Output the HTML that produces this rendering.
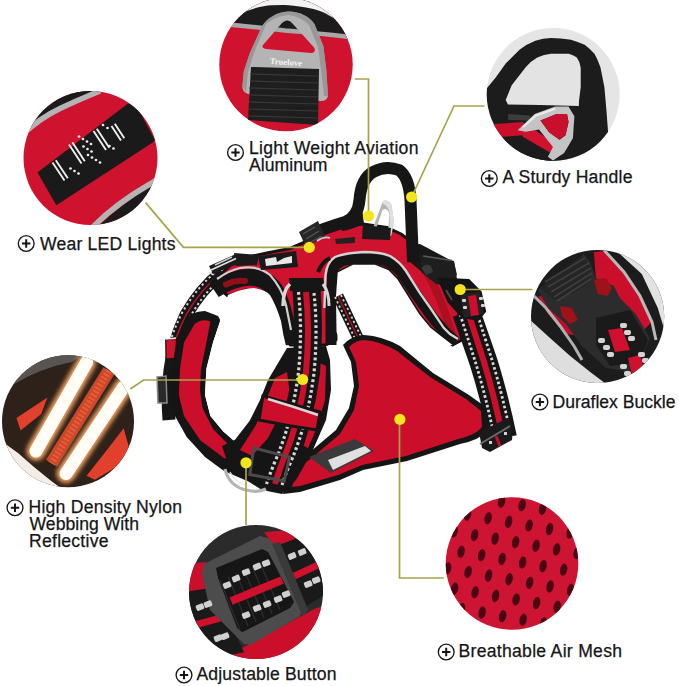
<!DOCTYPE html>
<html><head><meta charset="utf-8">
<style>
html,body{margin:0;padding:0;background:#fff;}
body{width:679px;height:686px;overflow:hidden;position:relative;}
svg{position:absolute;left:0;top:0;}
.t{font-family:"Liberation Sans",sans-serif;font-size:17.6px;fill:#151515;stroke:#151515;stroke-width:0.25px;}
</style></head><body>
<svg width="679" height="686" viewBox="0 0 679 686">
<defs>
<clipPath id="c1"><circle cx="286" cy="64.6" r="66.7"/></clipPath>
<clipPath id="c2"><circle cx="553.2" cy="94.4" r="66.5"/></clipPath>
<clipPath id="c3"><circle cx="90.5" cy="158" r="67"/></clipPath>
<clipPath id="c4"><circle cx="597.6" cy="316.5" r="66.6"/></clipPath>
<clipPath id="c5"><circle cx="68" cy="421.3" r="66"/></clipPath>
<clipPath id="c6"><circle cx="256" cy="592" r="67"/></clipPath>
<clipPath id="c7"><circle cx="512" cy="563.5" r="66.3"/></clipPath>
<linearGradient id="silver" x1="0" y1="0" x2="1" y2="1">
<stop offset="0" stop-color="#d8d8d8"/><stop offset="0.5" stop-color="#a8a8a8"/><stop offset="1" stop-color="#8a8a8a"/>
</linearGradient>
</defs>
<rect width="679" height="686" fill="#fff"/>

<!-- c1 aluminum -->
<g clip-path="url(#c1)">
<rect x="210" y="-5" width="160" height="145" fill="#cf122d"/>
<path d="M210 -5 H370 V45 L340 35 Q300 30 285 30 Q255 27 238 23 L210 28 Z" fill="#1c1c1c"/>
<path d="M210 -5 H370 V30 L340 22 Q334 18 330 16 Q322 10 306 7.5 Q290 4.5 282 5 Q270 5 265 6 Q252 8 240 14 L210 20 Z" fill="#f2f2f2"/>
<path d="M215 23 Q255 27 285 30.5 Q315 33 350 37" fill="none" stroke="#a8a8a8" stroke-width="4.5"/>
<path d="M288 11.6 Q297 11.5 304.2 15.3 Q310 18 314.5 24 L323.4 46.2 L326.3 69.8 L328 96 Q327 101 321 101 L248 94 Q242 92 242.4 86 L243.8 71.3 L249.7 53.6 L261.5 27 Q266 20 271.8 16.8 Q279 12 288 11.6 Z M286.5 20.5 Q290 20 292 23 L314.5 48 Q316 53 311 53 L266 49 Q261 48 263 45 L282 23 Q284 21 286.5 20.5 Z" fill="#b4b4b4" fill-rule="evenodd"/>
<path d="M288 11.6 Q297 11.5 304.2 15.3 Q310 18 314.5 24 L323.4 46.2 L326.3 69.8 L328 96 L324 96 L321 70 L318 47 L309 25 Q300 16 288 15 Q276 16 266 24 L254 53 L248 72 L246 92 L242.4 86 L243.8 71.3 L249.7 53.6 L261.5 27 Q266 20 271.8 16.8 Q279 12 288 11.6 Z" fill="#8c8c8c" opacity="0.7"/>
<path d="M251 66.9 L319 69 L318 125 L248 120 Z" fill="#1e1e1e"/>
<g stroke="#383838" stroke-width="1.2">
<path d="M250 74 L318 76 M250 81 L318 83 M249 88 L318 90 M249 95 L318 97 M249 102 L318 104 M248 109 L318 111 M248 116 L318 118"/>
</g>
<text x="270" y="65" font-family="Liberation Serif" font-size="8.5" font-weight="bold" fill="#f4f4f4" transform="rotate(4 287 62)">Truelove</text>
</g>

<!-- c2 handle -->
<g clip-path="url(#c2)">
<rect x="480" y="20" width="150" height="150" fill="#e5e5e5"/>
<path d="M480 95 L486 89.2 L495.9 77.3 L505.7 63.5 L519.5 49.7 Q527 44 535.3 40.8 Q543 38 551 37.9 Q561 38 570.9 39.8 Q578 42 584.7 44.8 Q590 49 594.5 53.7 Q598 60 600.5 67.5 L604.4 87.2 L606.4 110 L608 131 L609 175 L480 175 Z" fill="#1c1c1c"/>
<path d="M505.7 100 L511.7 85.2 L525.5 67.5 Q531 61 537.3 57.6 Q544 54 551 53.7 L568.9 53.7 Q574 55 576.8 57.6 Q580 62 580.7 67.5 L580.7 87.2 L579 101 L578.8 106 L540 105 L508 104.5 Z" fill="#e3e3e3"/>
<polygon points="508.1,114.0 530.2,115.5 530.2,120.6 508.1,119.9" fill="#3c3c3c"/>
<polygon points="478.6,125.0 522.8,122.1 530.2,129.5 524.3,141.2 478.6,144.2" fill="#cb0f2b"/>
<polygon points="478.6,138.3 503.7,136.8 522.8,135.3 552.3,153.0 550.8,164.8 478.6,164.8" fill="#1c1c1c"/>
<polygon points="521.3,128.0 530.2,126.5 555.2,144.2 550.8,153.0 522.8,136.8" fill="#cf122d"/>
<path d="M517.7 130.2 534.6 114.0 555.2 106.6 568.5 106.6 574.4 116.2 572.9 138.3 564.1 153.0 553.0 160.4 547.9 156.7 553.0 147.1 539.0 129.5 525.8 131.7 Z M540.5 120.6 556.7 114.0 567.0 114.0 568.5 122.1 565.5 135.3 559.6 139.8 549.3 132.4 Z" fill="#c4c4c4" fill-rule="evenodd"/>
<polygon points="540.5,120.6 556.7,114.0 567.0,114.0 568.5,122.1 565.5,135.3 559.6,139.8 549.3,132.4" fill="#c80f2b"/>
<path d="M522.8 127.2 L536.1 115.5 L555.2 108.8" fill="none" stroke="#ececec" stroke-width="2"/>
</g>

<!-- c3 LED -->
<g clip-path="url(#c3)">
<rect x="20" y="88" width="145" height="145" fill="#cf122d"/>
<path d="M20 88 H120 L95 92 Q70 103 55 110 Q40 118 30 128 L20 140 Z" fill="#1b1b1b"/>
<path d="M22 135 Q40 118 60 108.5 Q78 100 100 91" fill="none" stroke="#b4b4b4" stroke-width="5.5"/>
<path d="M85 240 Q110 212 150 186 L170 174 V240 Z" fill="#1b1b1b"/>
<path d="M88 232 Q112 206 150 184 L172 170" fill="none" stroke="#b4b4b4" stroke-width="5.5"/>
<path d="M37.5 172.6 L127.7 103.8 L135 103 L155 140 L152.7 142.6 L56.3 205.2 Z" fill="#1a1a1a"/>
<g stroke="#eeeeee" stroke-width="1.9" fill="none">
<path d="M52.5 162.5 L64.5 180.5 M55.8 160.3 L67.8 178.3 M69 144.5 L81.5 163.5 M72.3 142.3 L84.8 161.3 M93.5 131 L106 150 M96.8 128.8 L109.3 147.8 M111.5 126 L121 140.5 M114.8 123.8 L124.3 138.3"/>
</g>
<g fill="#eeeeee">
<circle cx="70.5" cy="168.5" r="1.35"/><circle cx="74.5" cy="171" r="1.35"/><circle cx="78.5" cy="173.5" r="1.35"/><circle cx="79" cy="136.5" r="1.35"/><circle cx="83" cy="139" r="1.35"/><circle cx="87" cy="141.5" r="1.35"/><circle cx="91" cy="144" r="1.35"/><circle cx="83.5" cy="146.5" r="1.35"/><circle cx="87.5" cy="149" r="1.35"/><circle cx="91.5" cy="151.5" r="1.35"/><circle cx="88" cy="155" r="1.35"/><circle cx="92" cy="157.5" r="1.35"/><circle cx="96" cy="160" r="1.35"/><circle cx="100" cy="162.5" r="1.35"/><circle cx="103" cy="125" r="1.35"/><circle cx="107.5" cy="128" r="1.35"/><circle cx="109.5" cy="146" r="1.35"/><circle cx="113.5" cy="148.5" r="1.35"/>
</g>
</g>

<!-- c4 buckle -->
<g clip-path="url(#c4)">
<rect x="525" y="245" width="150" height="150" fill="#1c1c1c"/>
<polygon points="617.9,244.0 669.8,244.0 669.8,331.9 663.8,327.9 657.8,307.9 641.8,274.0 619.9,254.0" fill="#e2e2e2"/>
<polygon points="526.0,315.9 530.0,319.9 550.0,337.9 569.9,355.8 589.9,371.8 605.9,383.8 526.0,387.8" fill="#dedede"/>
<polygon points="593.9,252.0 605.9,251.0 623.9,272.0 641.8,299.9 651.8,321.9 641.8,331.9 615.9,297.9 595.9,278.0" fill="#cb0f2b"/>
<polygon points="538.0,295.9 560.0,297.9 577.9,313.9 579.9,335.9 565.9,333.9 548.0,313.9" fill="#c00f2a"/>
<path d="M604 250 L624 272 L640 296 L652 322 L656 340" fill="none" stroke="#b8b8b8" stroke-width="3"/>
<path d="M532 294 L546 308 L560 326 L574 346 L582 360" fill="none" stroke="#b0b0b0" stroke-width="3"/>
<polygon points="538.0,289.9 583.9,254.0 589.9,262.0 595.9,278.0 613.9,285.9 619.9,297.9 635.9,313.9 649.8,337.9 641.8,359.8 627.9,371.8 605.9,367.8 581.9,345.9 565.9,323.9 548.0,307.9" fill="#2c2c2c"/>
<polygon points="540.0,287.9 581.9,256.0 589.9,266.0 589.9,282.0 575.9,291.9 554.0,299.9" fill="#252525"/>
<g stroke="#3e3e3e" stroke-width="1.6"><path d="M545 282 L585 258 M548 287 L589 263 M551 292 L591 268 M554 297 L592 273 M557 301 L591 279"/></g>
<polygon points="593.9,280.0 605.9,278.0 611.9,287.9 607.9,295.9 597.9,293.9" fill="#a0121a"/>
<polygon points="560.0,305.9 571.9,307.9 577.9,319.9 569.9,323.9 562.0,315.9" fill="#a0121a"/>
<path d="M596 318 L630 310 L648 340 L640 362 L610 366 L596 345 Z" fill="#1a1a1a"/>
<path d="M608 330 L622 328 L630 350 L615 352 Z" fill="#d0102c"/>
<path d="M628 358 L640 355 L645 372 L632 375 Z" fill="#d0102c"/>
<g fill="#d4d4d4">
<rect x="598" y="338" width="7" height="5" rx="2"/><rect x="603" y="345" width="7" height="5" rx="2"/><rect x="607" y="352" width="7" height="5" rx="2"/>
<rect x="620" y="323" width="7" height="5" rx="2"/><rect x="624" y="330" width="7" height="5" rx="2"/><rect x="628" y="336" width="7" height="5" rx="2"/>
<rect x="620" y="364" width="7" height="5" rx="2"/><rect x="624" y="371" width="7" height="5" rx="2"/>
<rect x="638" y="352" width="7" height="5" rx="2"/><rect x="642" y="358" width="7" height="5" rx="2"/>
</g>
</g>

<!-- c5 reflective -->
<g clip-path="url(#c5)">
<defs>
<filter id="glow" x="-50%" y="-50%" width="200%" height="200%"><feGaussianBlur stdDeviation="2.2"/></filter>
</defs>
<rect x="0" y="350" width="145" height="145" fill="#2e2119"/>
<path d="M0 350 H90 L72 362 Q40 368 12.4 385 L0 395 Z" fill="#585452"/>
<path d="M0 440 L18 453 L34 467 L50 480 L66 492 H0 Z" fill="#f4ece6"/>
<path d="M8 462 L44 490" stroke="#d8402c" stroke-width="1.5"/>
<path d="M16.5 418 L47.4 397.4 L41.2 413.9 L20.6 430.4 Z" fill="#e0402c"/>
<path d="M123.7 428.3 L130 451 L115.5 467.5 L94.8 479.8 L86.6 475.7 L103 455 Z" fill="#e0402c"/>
<g filter="url(#glow)">
<path d="M86.6 362.3 L36 451" stroke="#f0a060" stroke-width="19" stroke-linecap="round"/>
<path d="M123.7 387 L66 473.6" stroke="#f0a060" stroke-width="19" stroke-linecap="round"/>
</g>
<path d="M109 370.6 L51.5 463.3" stroke="#c84a2a" stroke-width="13"/>
<path d="M109 370.6 L51.5 463.3" stroke="#ee5a36" stroke-width="7" stroke-dasharray="2 2"/>
<path d="M86.6 362.3 L36 451" stroke="#fffdf6" stroke-width="13" stroke-linecap="round"/>
<path d="M123.7 387 L66 473.6" stroke="#fffdf6" stroke-width="13" stroke-linecap="round"/>
</g>

<!-- c6 adjustable -->
<g clip-path="url(#c6)">
<rect x="185" y="520" width="145" height="145" fill="#2b2b2b"/>
<polygon points="264.1,532.0 292.1,530.0 296.2,546.0 274.1,546.0" fill="#cb0f2b"/>
<polygon points="184.0,564.1 206.0,562.1 208.0,592.1 184.0,594.1" fill="#cb0f2b"/>
<polygon points="228.1,664.2 234.1,652.2 316.2,608.1 332.2,604.1 332.2,668.2" fill="#cb0f2b"/>
<polygon points="276.1,546.0 324.2,528.0 332.2,590.1 300.2,610.1" fill="#1a1a1a"/>
<polygon points="184.0,592.1 210.0,588.1 236.1,636.2 244.1,652.2 184.0,664.2" fill="#1a1a1a"/>
<path d="M294.1 576.1 L324.2 562.1" stroke="#d0102c" stroke-width="7"/>
<path d="M184.0 628.1 L220.0 618.1" stroke="#d0102c" stroke-width="7"/>
<polygon points="204.0,564.1 260.1,536.0 268.1,538.0 276.1,546.0 302.2,608.1 300.2,616.1 252.1,644.2 244.1,644.2 236.1,636.2 210.0,610.1 202.0,574.1" fill="#4c4c4c"/>
<polygon points="272.1,544.0 280.1,542.0 308.2,610.1 302.2,616.1" fill="#3a3a3a"/>
<polygon points="216.0,568.1 262.1,549.0 268.1,552.0 294.1,602.1 290.1,608.1 242.1,632.2 237.1,628.1 218.0,578.1" fill="#161616"/>
<g stroke="#2e2e2e" stroke-width="1.2"><path d="M220.0 580.1 L240.1 630.1 M228.1 576.5 L248.1 626.1 M236.1 573.1 L256.1 622.1 M244.1 569.7 L264.1 618.1 M252.1 566.5 L272.1 614.1 M260.1 563.1 L280.1 610.1"/></g>
<path d="M231.1 601.1 L282.1 580.1" stroke="#d0102c" stroke-width="8"/>
<g fill="#d0d0d0"><rect x="223.1" y="582.1" width="8.0" height="6.0" rx="1.5" transform="rotate(-22 227.1 585.1)"/><rect x="232.1" y="575.5" width="8.0" height="6.0" rx="1.5" transform="rotate(-22 236.1 578.5)"/><rect x="242.1" y="569.1" width="8.0" height="6.0" rx="1.5" transform="rotate(-22 246.1 572.1)"/><rect x="253.1" y="563.5" width="8.0" height="6.0" rx="1.5" transform="rotate(-22 257.1 566.5)"/><rect x="262.1" y="560.1" width="8.0" height="6.0" rx="1.5" transform="rotate(-22 266.1 563.1)"/><rect x="242.1" y="612.1" width="8.0" height="6.0" rx="1.5" transform="rotate(-22 246.1 615.1)"/><rect x="253.1" y="605.1" width="8.0" height="6.0" rx="1.5" transform="rotate(-22 257.1 608.1)"/><rect x="263.1" y="601.1" width="8.0" height="6.0" rx="1.5" transform="rotate(-22 267.1 604.1)"/><rect x="274.1" y="596.1" width="8.0" height="6.0" rx="1.5" transform="rotate(-22 278.1 599.1)"/><rect x="282.1" y="591.1" width="8.0" height="6.0" rx="1.5" transform="rotate(-22 286.1 594.1)"/><rect x="288.1" y="553.0" width="8.0" height="6.0" rx="1.5" transform="rotate(-22 292.1 556.0)"/><rect x="298.2" y="549.0" width="8.0" height="6.0" rx="1.5" transform="rotate(-22 302.2 552.0)"/><rect x="304.2" y="581.1" width="8.0" height="6.0" rx="1.5" transform="rotate(-22 308.2 584.1)"/><rect x="312.2" y="577.1" width="8.0" height="6.0" rx="1.5" transform="rotate(-22 316.2 580.1)"/><rect x="196.0" y="604.1" width="8.0" height="6.0" rx="1.5" transform="rotate(-22 200.0 607.1)"/><rect x="204.0" y="601.1" width="8.0" height="6.0" rx="1.5" transform="rotate(-22 208.0 604.1)"/><rect x="214.0" y="635.2" width="8.0" height="6.0" rx="1.5" transform="rotate(-22 218.0 638.2)"/><rect x="221.1" y="633.2" width="8.0" height="6.0" rx="1.5" transform="rotate(-22 225.1 636.2)"/></g>
</g>

<!-- c7 mesh -->
<g clip-path="url(#c7)">
<rect x="440" y="490" width="150" height="150" fill="#cd1433"/>
<g fill="#4a0612"><ellipse cx="481.1" cy="498.0" rx="3.6" ry="6.2" transform="rotate(12 481.1 498.0)"/><ellipse cx="467.6" cy="514.7" rx="3.6" ry="6.2" transform="rotate(12 467.6 514.7)"/><ellipse cx="454.1" cy="531.4" rx="3.6" ry="6.2" transform="rotate(12 454.1 531.4)"/><ellipse cx="440.6" cy="548.1" rx="3.6" ry="6.2" transform="rotate(12 440.6 548.1)"/><ellipse cx="501.6" cy="501.6" rx="3.6" ry="6.2" transform="rotate(12 501.6 501.6)"/><ellipse cx="488.1" cy="518.3" rx="3.6" ry="6.2" transform="rotate(12 488.1 518.3)"/><ellipse cx="474.6" cy="535.0" rx="3.6" ry="6.2" transform="rotate(12 474.6 535.0)"/><ellipse cx="461.1" cy="551.7" rx="3.6" ry="6.2" transform="rotate(12 461.1 551.7)"/><ellipse cx="447.6" cy="568.4" rx="3.6" ry="6.2" transform="rotate(12 447.6 568.4)"/><ellipse cx="522.1" cy="505.2" rx="3.6" ry="6.2" transform="rotate(12 522.1 505.2)"/><ellipse cx="508.6" cy="521.9" rx="3.6" ry="6.2" transform="rotate(12 508.6 521.9)"/><ellipse cx="495.1" cy="538.6" rx="3.6" ry="6.2" transform="rotate(12 495.1 538.6)"/><ellipse cx="481.6" cy="555.3" rx="3.6" ry="6.2" transform="rotate(12 481.6 555.3)"/><ellipse cx="468.1" cy="572.0" rx="3.6" ry="6.2" transform="rotate(12 468.1 572.0)"/><ellipse cx="454.6" cy="588.7" rx="3.6" ry="6.2" transform="rotate(12 454.6 588.7)"/><ellipse cx="542.6" cy="508.8" rx="3.6" ry="6.2" transform="rotate(12 542.6 508.8)"/><ellipse cx="529.1" cy="525.5" rx="3.6" ry="6.2" transform="rotate(12 529.1 525.5)"/><ellipse cx="515.6" cy="542.2" rx="3.6" ry="6.2" transform="rotate(12 515.6 542.2)"/><ellipse cx="502.1" cy="558.9" rx="3.6" ry="6.2" transform="rotate(12 502.1 558.9)"/><ellipse cx="488.6" cy="575.6" rx="3.6" ry="6.2" transform="rotate(12 488.6 575.6)"/><ellipse cx="475.1" cy="592.3" rx="3.6" ry="6.2" transform="rotate(12 475.1 592.3)"/><ellipse cx="461.6" cy="609.0" rx="3.6" ry="6.2" transform="rotate(12 461.6 609.0)"/><ellipse cx="563.1" cy="512.4" rx="3.6" ry="6.2" transform="rotate(12 563.1 512.4)"/><ellipse cx="549.6" cy="529.1" rx="3.6" ry="6.2" transform="rotate(12 549.6 529.1)"/><ellipse cx="536.1" cy="545.8" rx="3.6" ry="6.2" transform="rotate(12 536.1 545.8)"/><ellipse cx="522.6" cy="562.5" rx="3.6" ry="6.2" transform="rotate(12 522.6 562.5)"/><ellipse cx="509.1" cy="579.2" rx="3.6" ry="6.2" transform="rotate(12 509.1 579.2)"/><ellipse cx="495.6" cy="595.9" rx="3.6" ry="6.2" transform="rotate(12 495.6 595.9)"/><ellipse cx="482.1" cy="612.6" rx="3.6" ry="6.2" transform="rotate(12 482.1 612.6)"/><ellipse cx="570.1" cy="532.7" rx="3.6" ry="6.2" transform="rotate(12 570.1 532.7)"/><ellipse cx="556.6" cy="549.4" rx="3.6" ry="6.2" transform="rotate(12 556.6 549.4)"/><ellipse cx="543.1" cy="566.1" rx="3.6" ry="6.2" transform="rotate(12 543.1 566.1)"/><ellipse cx="529.6" cy="582.8" rx="3.6" ry="6.2" transform="rotate(12 529.6 582.8)"/><ellipse cx="516.1" cy="599.5" rx="3.6" ry="6.2" transform="rotate(12 516.1 599.5)"/><ellipse cx="502.6" cy="616.2" rx="3.6" ry="6.2" transform="rotate(12 502.6 616.2)"/><ellipse cx="489.1" cy="632.9" rx="3.6" ry="6.2" transform="rotate(12 489.1 632.9)"/><ellipse cx="577.1" cy="553.0" rx="3.6" ry="6.2" transform="rotate(12 577.1 553.0)"/><ellipse cx="563.6" cy="569.7" rx="3.6" ry="6.2" transform="rotate(12 563.6 569.7)"/><ellipse cx="550.1" cy="586.4" rx="3.6" ry="6.2" transform="rotate(12 550.1 586.4)"/><ellipse cx="536.6" cy="603.1" rx="3.6" ry="6.2" transform="rotate(12 536.6 603.1)"/><ellipse cx="523.1" cy="619.8" rx="3.6" ry="6.2" transform="rotate(12 523.1 619.8)"/><ellipse cx="509.6" cy="636.5" rx="3.6" ry="6.2" transform="rotate(12 509.6 636.5)"/><ellipse cx="584.1" cy="573.3" rx="3.6" ry="6.2" transform="rotate(12 584.1 573.3)"/><ellipse cx="570.6" cy="590.0" rx="3.6" ry="6.2" transform="rotate(12 570.6 590.0)"/><ellipse cx="557.1" cy="606.7" rx="3.6" ry="6.2" transform="rotate(12 557.1 606.7)"/><ellipse cx="543.6" cy="623.4" rx="3.6" ry="6.2" transform="rotate(12 543.6 623.4)"/></g>
</g>

<!-- HARNESS -->
<g id="harness">
<!-- far left neck strap -->
<path d="M222 272 Q200 290 186 315 Q174 340 170 370 Q167 395 169 420" fill="none" stroke="#161616" stroke-width="13" stroke-linejoin="round"/>
<path d="M222 272 Q200 290 186 315 Q176 335 172 352" fill="none" stroke="#d4d4d4" stroke-width="2" stroke-dasharray="2.2 2.8" transform="translate(-4 -2)"/>
<path d="M222 272 Q200 290 186 315 Q176 335 172 352" fill="none" stroke="#d4d4d4" stroke-width="2" stroke-dasharray="2.2 2.8" transform="translate(4 2)"/>
<path d="M222 272 Q200 290 186 315 Q176 335 172 352" fill="none" stroke="#b01520" stroke-width="1.6"/>
<path d="M165.7 340 L176.2 338 L177 358 L166 359 Z" fill="#cf122d" stroke="#161616" stroke-width="1.2"/>
<path d="M166 339 L176 338" stroke="#e8e8e8" stroke-width="1.5"/>
<path d="M157 377 L166 376 L167 403 L158 403 Z" fill="#2a2a2a" stroke="#8a8a8a" stroke-width="1.5"/>

<!-- padded C -->
<path d="M184 321.5 Q190 311 205 311 L218 316 Q221 320 219.5 323 L213 342.5 L206.4 368.7 L205 395 L210.4 416 L223.5 431.7 L235 442 L262 450 L268 478 L245 480 L224 471 L205 457 L186.7 437 L175 416 L171 395 L172.3 368.7 L176 342.5 Z" fill="#151515"/>
<path d="M194.6 324 Q202 318 210.4 321.5 L206.4 342.5 L201 368.7 L199.9 389.7 L202.5 408 L213 429 L228 444 L252 453 L254 466 L224 458 L200 440 L184 416 L178.9 395 L180 368.7 L184 342.5 Z" fill="#cb0f2b"/>

<!-- back panel -->
<path d="M212 282 L234 262 L248 257 L268 252.7 L290 248.5 L305 242 L318 235 L331 228 L363 224 L387 227.4 L401 234 L413 243 L428 251 L446 262 L456 290 L462 340 L452.5 345 L441.5 336.6 L430.4 327.8 L419.4 314.5 L408.4 296.9 L397.3 279.2 L388.5 270.3 L375 264.8 L353 264.8 L337.7 272.6 L336 290 L336 340 L326 345 L290 345 L284 320 L277 302 L266 292 L246 290 L228 296 Z" fill="#cf122d" stroke="#141414" stroke-width="3" stroke-linejoin="round"/>
<path d="M420 262 Q440 290 452 336" stroke="#8a0e14" stroke-width="8" opacity="0.5" fill="none"/>
<!-- left arch band -->
<path d="M214 290 Q232 278 250 277 Q268 278 276 292 Q284 308 287 330 L289 345" fill="none" stroke="#151515" stroke-width="17"/>
<path d="M217 279 Q230 270 240 268 Q258 265 270 275 Q282 288 286 305 L291 330" fill="none" stroke="#cfcfcf" stroke-width="2.2"/>
<path d="M226 284.5 Q235 280 245 281" stroke="#8e0f16" stroke-width="6" stroke-linecap="round"/>
<!-- right arch band -->
<path d="M331 345 L331 300 L333 268 Q338 261 347 259.5 L370 258 Q382 259 388 262 Q396 266 401 272 L411 287 L422 303 L433 318 L445 332 L456 342" fill="none" stroke="#151515" stroke-width="11" stroke-linejoin="round"/>
<path d="M324.4 308 L325.5 275 Q327 262 335 257 Q345 253 364 252 Q380 252 390 256 Q400 262 406 271 L419.4 292.4 L430.4 308 L443.7 327.8 L450 334 L458 339" fill="none" stroke="#d4d4d4" stroke-width="2.4"/>
<path d="M318 272 Q322 262 330 258" fill="none" stroke="#151515" stroke-width="4"/>

<!-- neck hole -->
<path d="M219.5 323 L228 295 Q240 289 254 288 Q266 290 270 295 Q276 305 281 321 L283.4 335 L287 350 L268 380 L259.8 400.6 L249.5 421 L235 439.8 L223.5 431.7 L210.4 416 L205 395 L206.4 368.7 L213 342.5 Z" fill="#fff"/>
<!-- right hole -->
<path d="M337.7 272.6 L353 264.8 L375 264.8 L388.5 270.3 L397.3 279.2 L408.4 296.9 L419.4 314.5 L430.4 327.8 L441.5 336.6 L452.5 345 L412 352 L384 337 L362 337 L342 346 L336.5 332 L336 296 Z" fill="#fff"/>
<!-- chest hole -->
<path d="M326 346 L346 344 L353 386 L349 408 L336 430 L318 446 L306 442 L318 420 L325 385 Z" fill="#fff"/>

<!-- far right strap in hole -->
<path d="M338 296 L362 346" stroke="#161616" stroke-width="11"/>
<path d="M338 296 L362 346" stroke="#d4d4d4" stroke-width="1.8" stroke-dasharray="2.2 2.6" transform="translate(-3 1)"/>
<path d="M338 296 L362 346" stroke="#d4d4d4" stroke-width="1.8" stroke-dasharray="2.2 2.6" transform="translate(3 -1)"/>
<path d="M338 296 L362 346" stroke="#b01520" stroke-width="1.4"/>

<!-- chest mesh panel -->
<path d="M343 345 Q352 335 364 335 Q382 336 400 346 L433 373 L469 395 L487 408 L488 430 Q480 440 460 444 L407 461 L363 470 L340 480 L300 492 L283 494 L290 468 L310 452 L336 430 L349 408 L354 386 L351 362 Z" fill="#151515"/>
<path d="M349 347 Q356 340 364 340 Q380 341 397 351 L430 377 L466 399 L481 411 L482 427 Q476 435 458 439 L406 456 L362 465 L338 475 L300 486 L292 487 L296 470 L314 456 L340 434 L354 410 L359 386 L356 362 Z" fill="#cb0f2b"/>
<path d="M309 457 L355 439 L374 451 L331 473 Z" fill="#3a3a3a"/>
<path d="M328 460 L365 446 L371 451 L333 470 Z" fill="#e0e0e0"/>

<!-- side strap right -->
<path d="M466 312 Q476 340 483.5 362 Q494 395 503 438" fill="none" stroke="#151515" stroke-width="28"/>
<path d="M468 312 Q477 340 484 362 Q494 395 503 438" fill="none" stroke="#cb0f2b" stroke-width="6"/>
<path d="M468 312 Q477 340 484 362 Q494 395 503 438" fill="none" stroke="#d8d8d8" stroke-width="2.8" stroke-dasharray="2.6 2.4" transform="translate(-8 2)"/>
<path d="M468 312 Q477 340 484 362 Q494 395 503 438" fill="none" stroke="#d8d8d8" stroke-width="2.8" stroke-dasharray="2.6 2.4" transform="translate(8 -2)"/>
<path d="M479 432 L508 418 L513 426 L512 440 L490 452 L482 448 Z" fill="#1a1a1a"/>
<path d="M480 444 L510 426" stroke="#6a6a6a" stroke-width="2"/>
<path d="M496 436 L500 446" stroke="#cb0f2b" stroke-width="3"/>
<g fill="#d0d0d0"><rect x="489" y="441" width="3" height="3"/><rect x="504" y="432" width="3" height="3"/></g>

<!-- front padded near piece -->
<path d="M287 348 L268 380 L259.8 400.6 L249.5 421 L235 439.8 L222 446 L230 470 L262 490 L282 494 L296 480 L312 452 L326 420 L331 390 L330 360 L326 346 Z" fill="#151515"/>
<path d="M275 378 L287 372 L290 395 L268 438 L252 456 L240 450 L256 425 Z" fill="#cb0f2b"/>
<path d="M318 362 L326 366 L325 400 L316 430 L308 448 L300 444 L312 410 Z" fill="#cb0f2b"/>
<!-- front strap -->
<path d="M306 282 Q310 330 306 372 Q300 420 284 458 Q278 474 275 486" fill="none" stroke="#151515" stroke-width="28"/>
<path d="M306 292 Q310 330 306 372 Q300 420 284 458 Q278 474 275 484" fill="none" stroke="#cb0f2b" stroke-width="6"/>
<path d="M306 292 Q310 330 306 372 Q300 420 284 458 Q278 472 274 484" fill="none" stroke="#d6d6d6" stroke-width="3.2" stroke-dasharray="2.8 2.6" transform="translate(-7.5 0)"/>
<path d="M306 292 Q310 330 306 372 Q300 420 284 458 Q278 472 274 484" fill="none" stroke="#d6d6d6" stroke-width="3.2" stroke-dasharray="2.8 2.6" transform="translate(8 1)"/>
<path d="M289 278 L323 278 L325 291 L290 291 Z" fill="#161616"/>
<!-- keeper -->
<path d="M263 396 Q290 404 320 412 L317 430 Q288 426 259 420 Z" fill="#cb0f2b" stroke="#151515" stroke-width="3"/>
<path d="M268 399 Q292 406 318 415" fill="none" stroke="#d8d8d8" stroke-width="2.4"/>
<!-- ladder buckle -->
<path d="M253.7 448 L289.5 457 L284.2 481 L249.8 474.5 Z" fill="none" stroke="#4a4a4a" stroke-width="3"/>
<!-- bottom O ring -->
<path d="M225 469 Q229 486 246 490 Q258 493 266 489" fill="none" stroke="#b4b4b4" stroke-width="3.2"/>
<path d="M230 472 Q236 484 250 486" fill="none" stroke="#e8e8e8" stroke-width="1.2"/>

<!-- side release buckle -->
<path d="M408 246 L420 244 L454 262 L457 275 L448 280 L422 272 L410 262 Z" fill="#181818"/>
<path d="M420 254 L440 257 L454 261 L457 279 L449 286 L436 284 L421 272 Z" fill="#1e1e1e"/>
<path d="M423 256 L452 260.5" stroke="#5a5a5a" stroke-width="1.5"/>
<path d="M421.5 268 Q426 262 431 266 L433 272 L426 275 Z" fill="#3a3a3a"/>
<path d="M436.8 277.6 L469.2 279 L481.6 291.5 L486.2 311.6 L478.5 320.9 L461.5 317.8 L447.6 302.3 Z" fill="#141414"/>
<path d="M446 290 L452 300" stroke="#4a4a4a" stroke-width="2"/>
<path d="M460 294 L480 292 L484 314 L464 318 Z" fill="#222"/>
<path d="M468 296 L476 295 L479 315 L471 316 Z" fill="#cb0f2b"/>
<g fill="#d4d4d4"><rect x="462" y="299" width="4" height="3" rx="1"/><rect x="463" y="306" width="4" height="3" rx="1"/><rect x="479" y="297" width="4" height="3" rx="1"/><rect x="481" y="304" width="4" height="3" rx="1"/></g>

<!-- handle -->
<path d="M303 237 Q325 228 345 222 Q358 217 359.5 200 Q361 179 373 172 Q386 165 399 170 Q409 177 410.5 200 L413 262" fill="none" stroke="#161616" stroke-width="12" stroke-linejoin="round"/>
<path d="M340 222 Q352 214 362 208 L364 224 Q350 230 342 231 Z" fill="#161616"/>
<path d="M299 232 L318 221 L325 236 L306 247 Z" fill="#262626"/>
<path d="M303 234 L315 227 M306 239 L319 231 M309 243 L322 236" stroke="#555" stroke-width="1.3"/>
<path d="M317 241 Q324 236 330 238" fill="none" stroke="#c8c8c8" stroke-width="1.8"/>
<path d="M335 239 L355 237 L355 243 L336 244 Z" fill="#222"/>
<path d="M383 201 Q388 199 391.5 205 L394 222 L391 236 L371 233 Z M382.5 210 L376 229 L388 231 L389.5 214 Q387 207 382.5 210 Z" fill="#b4b4b4" fill-rule="evenodd"/>
<path d="M383 201 Q388 199 391.5 205 L394 222 L391 236 L389 236 L390 214 Q388 205 383 204 Z" fill="#e0e0e0"/>
<path d="M363 225 L391 228 L390 240 L362 239 Z" fill="#1a1a1a"/>
<!-- back label -->
<path d="M258 256 L296 251 L298 267 L261 270 Z" fill="#1a1a1a"/>
<path d="M265 259 L276 257 L277 262 L284 258 L292 256 L292 263 L266 266 Z" fill="#e8e8e8"/>
<!-- left slider -->
<path d="M234 253 L259 255 L257 265 L236 266 Z" fill="#1a1a1a"/>
<path d="M209 266 L236 254 L240 263 L213 274 Z" fill="#1c1c1c"/>
<path d="M211 270 L236 258.5" stroke="#e0e0e0" stroke-width="1.8"/>
<path d="M215 265 L232 257" stroke="#cfcfcf" stroke-width="1.4"/>
<path d="M209 272 L213 275" stroke="#d8d8d8" stroke-width="1.5"/>
<!-- top O ring behind strap -->
<path d="M283 306 Q283 290 290 284" fill="none" stroke="#d8d8d8" stroke-width="3.5"/>
<path d="M323 284 Q329 292 329 306" fill="none" stroke="#d8d8d8" stroke-width="3"/>
</g>


<!-- callout lines -->
<g fill="none" stroke="#a8a24a" stroke-width="1.7">
<polyline points="354.8,79 368.5,79 368.5,216"/>
<polyline points="484.5,106 454,106 411.6,197"/>
<polyline points="145.6,202.6 183.4,247.4 309.3,247.4"/>
<polyline points="460.2,289.5 532.4,289.5"/>
<polyline points="130.3,389 143.6,380 302.6,380"/>
<polyline points="246,462.8 246,525"/>
<polyline points="399.5,419.4 399.5,578 443.7,578"/>
</g>
<g fill="#f3e41c">
<circle cx="368.5" cy="216" r="5.6"/>
<circle cx="411.6" cy="197" r="5.6"/>
<circle cx="309.3" cy="247.4" r="5.6"/>
<circle cx="460.2" cy="289.5" r="5.6"/>
<circle cx="302.6" cy="379.5" r="5.6"/>
<circle cx="246" cy="462.8" r="5.6"/>
<circle cx="399.9" cy="419.4" r="5.6"/>
</g>

<!-- labels -->
<g fill="none" stroke="#151515">
<circle cx="235.5" cy="152.5" r="7.9" stroke-width="1.35"/><path d="M231.3 152.5h8.4M235.5 148.3v8.4" stroke-width="2"/>
<circle cx="489.3" cy="178.5" r="7.9" stroke-width="1.35"/><path d="M485.1 178.5h8.4M489.3 174.3v8.4" stroke-width="2"/>
<circle cx="26.2" cy="243.5" r="7.9" stroke-width="1.35"/><path d="M22.0 243.5h8.4M26.2 239.3v8.4" stroke-width="2"/>
<circle cx="539.9" cy="402" r="7.9" stroke-width="1.35"/><path d="M535.7 402h8.4M539.9 397.8v8.4" stroke-width="2"/>
<circle cx="15" cy="507.7" r="7.9" stroke-width="1.35"/><path d="M10.8 507.7h8.4M15 503.5v8.4" stroke-width="2"/>
<circle cx="184" cy="675" r="7.9" stroke-width="1.35"/><path d="M179.8 675h8.4M184 670.8v8.4" stroke-width="2"/>
<circle cx="446.2" cy="652" r="7.9" stroke-width="1.35"/><path d="M442.0 652h8.4M446.2 647.8v8.4" stroke-width="2"/>
</g>
<text class="t" x="249.0" y="153.5" textLength="169.5" lengthAdjust="spacing">Light Weight Aviation</text>
<text class="t" x="249.0" y="170.5" textLength="78.5" lengthAdjust="spacing">Aluminum</text>
<text class="t" x="502.5" y="183.2" textLength="130.0" lengthAdjust="spacing">A Sturdy Handle</text>
<text class="t" x="40.0" y="249.6" textLength="135.5" lengthAdjust="spacing">Wear LED Lights</text>
<text class="t" x="552.5" y="407.8" textLength="123.0" lengthAdjust="spacing">Duraflex Buckle</text>
<text class="t" x="28.5" y="513.4" textLength="153.5" lengthAdjust="spacing">High Density Nylon</text>
<text class="t" x="29.5" y="529.8" textLength="109.5" lengthAdjust="spacing">Webbing With</text>
<text class="t" x="29.0" y="546.5" textLength="79.5" lengthAdjust="spacing">Reflective</text>
<text class="t" x="196.5" y="679.8" textLength="140.0" lengthAdjust="spacing">Adjustable Button</text>
<text class="t" x="458.5" y="657.0" textLength="163.5" lengthAdjust="spacing">Breathable Air Mesh</text>
</svg>

</body></html>
